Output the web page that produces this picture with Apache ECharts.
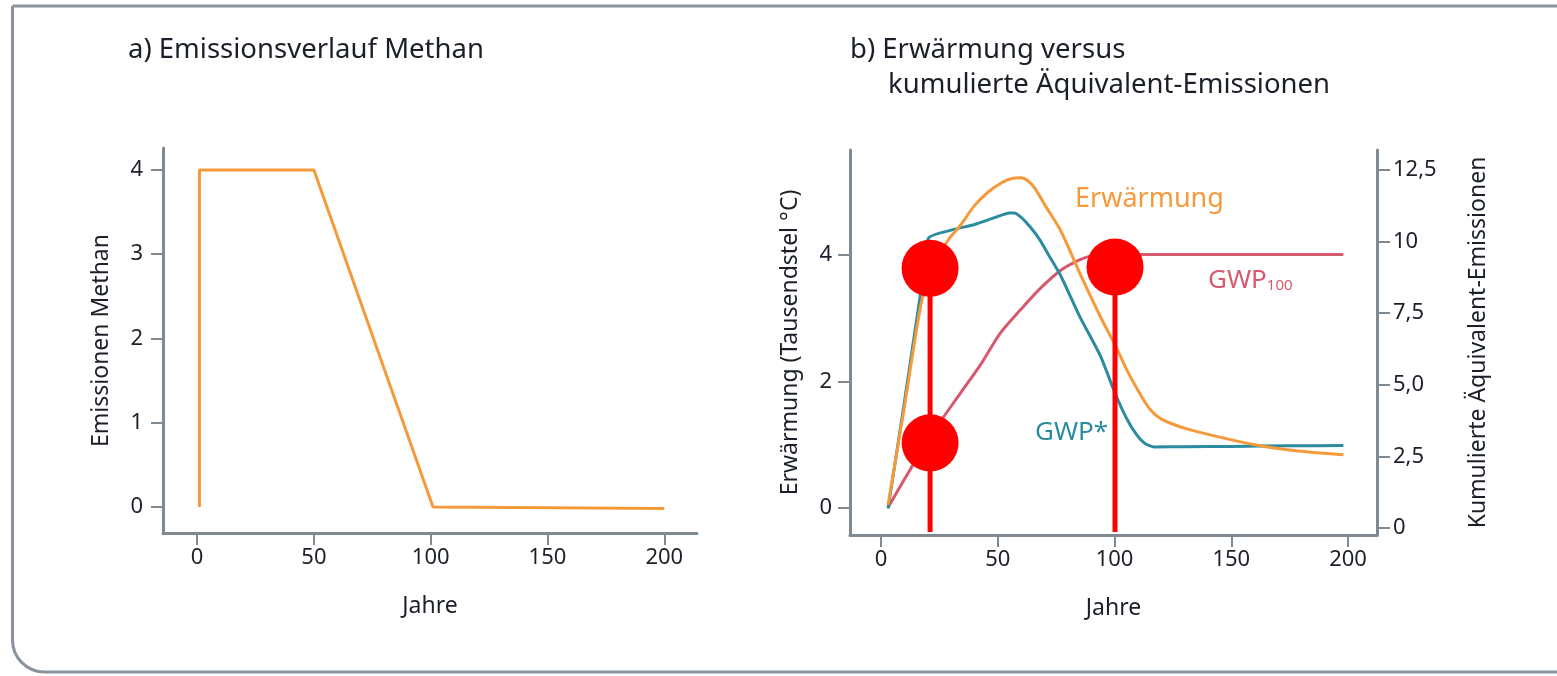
<!DOCTYPE html>
<html>
<head>
<meta charset="utf-8">
<script src="https://cdn.jsdelivr.net/npm/echarts@6/dist/echarts.min.js"></script>
<style>
html,body{margin:0;padding:0;background:#fff;}
#c{width:1557px;height:676px;}
</style>
</head>
<body>
<div id="c"></div>
<script>
// ---- Data ----
const xTicks = [0, 50, 100, 150, 200];
const leftYTicks = [0, 1, 2, 3, 4];
const warmYTicks = [0, 2, 4];
const cumTicks = [0, 2.5, 5, 7.5, 10, 12.5];
const cumTickLabels = ['0', '2,5', '5,0', '7,5', '10', '12,5'];

// a) Emissionsverlauf Methan
const emYears  = [1, 1, 50, 101, 200];
const emValues = [0, 4, 4, 0, -0.02];

// b) Erwärmung (Tausendstel °C), left axis
const warmYears  = [3, 10, 17, 21, 25, 29, 34, 40, 46, 52, 56, 60, 63, 66, 70, 77, 85, 94, 101, 105, 111, 115, 119, 124, 131, 145, 160, 174, 188, 198];
const warmValues = [0.05, 1.6, 3.2, 3.7, 4.0, 4.25, 4.47, 4.78, 5.0, 5.15, 5.21, 5.22, 5.17, 5.05, 4.8, 4.38, 3.72, 3.02, 2.52, 2.2, 1.8, 1.57, 1.43, 1.34, 1.25, 1.12, 1.0, 0.92, 0.87, 0.84];

// GWP* cumulative equivalent emissions, right axis
const gwpStarYears  = [3, 10, 16.7, 20.3, 30, 40, 48, 55, 57, 60, 64, 68, 72, 77, 85, 94, 100, 105, 109.5, 113, 117, 130, 150, 175, 198];
const gwpStarValues = [0.68, 4.4, 8.07, 10.12, 10.4, 10.6, 10.82, 11.0, 11.0, 10.85, 10.5, 10.06, 9.5, 8.8, 7.4, 6.0, 4.75, 3.85, 3.25, 2.95, 2.83, 2.84, 2.85, 2.87, 2.88];

// GWP100 cumulative equivalent emissions, right axis
const gwp100Years  = [3, 10, 21, 34, 43, 51, 59.5, 68, 77, 85, 90, 100, 110, 150, 198];
const gwp100Values = [0.72, 1.7, 3.19, 4.71, 5.75, 6.8, 7.6, 8.35, 9.0, 9.36, 9.5, 9.55, 9.55, 9.55, 9.55];

// red annotation markers (year, warming units)
const markerPoints = [[21, 3.79], [21, 1.03], [100.2, 3.81]];
const markerLines = [[[21, -0.38], [21, 3.79]], [[100.2, -0.38], [100.2, 3.81]]];

// ---- Styles ----
const FONT = 'Noto Sans';
const TXT = '#1b2028';
const AX = '#7f8992';
const ORANGE = '#f59a3a';
const TEAL = '#2a8c9e';
const PINK = '#d65a6d';

const zip = (xs, ys) => xs.map((x, i) => [x, ys[i]]);

function xAxisCfg(gridIndex, min, max) {
  return {
    type: 'value', gridIndex, min, max,
    name: 'Jahre', nameLocation: 'middle', nameGap: 62,
    nameTextStyle: {fontFamily: FONT, fontSize: 23, color: TXT},
    axisLine: {show: true, onZero: false, lineStyle: {color: AX, width: 3}},
    axisTick: {show: true, length: 12, customValues: xTicks, lineStyle: {color: AX, width: 2}},
    axisLabel: {customValues: xTicks, fontFamily: FONT, fontSize: 22, color: TXT, margin: 14},
    splitLine: {show: false}
  };
}

const chart = echarts.init(document.getElementById('c'), null, {renderer: 'canvas'});
chart.setOption({
  animation: false,
  backgroundColor: '#fff',
  grid: [
    {left: 163, top: 148, width: 534, height: 385},
    {left: 850, top: 150, width: 527, height: 385}
  ],
  xAxis: [xAxisCfg(0, -14.6, 214), xAxisCfg(1, -13.3, 212.4)],
  yAxis: [
    {
      type: 'value', gridIndex: 0, min: -0.31, max: 4.26,
      name: 'Emissionen Methan', nameLocation: 'middle', nameGap: 50, nameRotate: 90,
      nameTextStyle: {fontFamily: FONT, fontSize: 23, color: TXT},
      axisLine: {show: true, onZero: false, lineStyle: {color: AX, width: 3}},
      axisTick: {show: true, length: 12, customValues: leftYTicks, lineStyle: {color: AX, width: 2}},
      axisLabel: {customValues: leftYTicks, fontFamily: FONT, fontSize: 22, color: TXT, margin: 20},
      splitLine: {show: false}
    },
    {
      type: 'value', gridIndex: 1, min: -0.427, max: 5.66, position: 'left',
      name: 'Erwärmung (Tausendstel °C)', nameLocation: 'middle', nameGap: 48, nameRotate: 90,
      nameTextStyle: {fontFamily: FONT, fontSize: 23, color: TXT},
      axisLine: {show: true, onZero: false, lineStyle: {color: AX, width: 3}},
      axisTick: {show: true, length: 12, customValues: warmYTicks, lineStyle: {color: AX, width: 2}},
      axisLabel: {customValues: warmYTicks, fontFamily: FONT, fontSize: 22, color: TXT, margin: 18},
      splitLine: {show: false}
    },
    {
      type: 'value', gridIndex: 1, min: -0.244, max: 13.2, position: 'right',
      name: 'Kumulierte Äquivalent-Emissionen', nameLocation: 'middle', nameGap: 90, nameRotate: 90,
      nameTextStyle: {fontFamily: FONT, fontSize: 23, color: TXT},
      axisLine: {show: true, onZero: false, lineStyle: {color: AX, width: 3}},
      axisTick: {show: true, length: 13, customValues: cumTicks, lineStyle: {color: AX, width: 2}},
      axisLabel: {
        customValues: cumTicks, fontFamily: FONT, fontSize: 22, color: TXT, margin: 16,
        formatter: v => { const i = cumTicks.findIndex(t => Math.abs(t - v) < 1e-6); return i >= 0 ? cumTickLabels[i] : ''; }
      },
      splitLine: {show: false}
    }
  ],
  series: [
    {type: 'line', xAxisIndex: 0, yAxisIndex: 0, data: zip(emYears, emValues), symbol: 'none',
     lineStyle: {color: ORANGE, width: 3}},
    {type: 'line', xAxisIndex: 1, yAxisIndex: 2, data: zip(gwp100Years, gwp100Values), symbol: 'none',
     smooth: 0.3, lineStyle: {color: PINK, width: 3}},
    {type: 'line', xAxisIndex: 1, yAxisIndex: 2, data: zip(gwpStarYears, gwpStarValues), symbol: 'none',
     smooth: 0.2, lineStyle: {color: TEAL, width: 3}},
    {type: 'line', xAxisIndex: 1, yAxisIndex: 1, data: zip(warmYears, warmValues), symbol: 'none',
     smooth: 0.3, lineStyle: {color: ORANGE, width: 3}},
    ...markerLines.map(seg => ({
      type: 'line', xAxisIndex: 1, yAxisIndex: 1, data: seg, symbol: 'none', z: 5,
      lineStyle: {color: '#ff0000', width: 5}
    })),
    {type: 'scatter', xAxisIndex: 1, yAxisIndex: 1, data: markerPoints, symbol: 'circle', symbolSize: 57, z: 6,
     itemStyle: {color: '#ff0000', opacity: 1}}
  ],
  graphic: [
    {type: 'rect', silent: true, z: -1,
     shape: {x: 12.5, y: 6, width: 1620, height: 666, r: [0, 0, 0, 32]},
     style: {fill: 'none', stroke: '#8a939b', lineWidth: 3}},
    {type: 'text', left: 128, top: 36, style: {text: 'a) Emissionsverlauf Methan', font: '27.5px "Noto Sans"', fill: TXT}},
    {type: 'text', left: 850, top: 36, style: {text: 'b) Erwärmung versus', font: '27.5px "Noto Sans"', fill: TXT}},
    {type: 'text', left: 888, top: 71, style: {text: 'kumulierte Äquivalent-Emissionen', font: '27.5px "Noto Sans"', fill: TXT}},
    {type: 'text', left: 1075, top: 186, style: {text: 'Erwärmung', font: '27px "Noto Sans"', fill: ORANGE}},
    {type: 'text', left: 1035, top: 420, style: {text: 'GWP*', font: '26px "Noto Sans"', fill: TEAL}},
    {type: 'text', left: 1208, top: 268, style: {
      text: '{a|GWP}{b|100}', fill: PINK,
      rich: {a: {fontFamily: FONT, fontSize: 26, fill: PINK}, b: {fontFamily: FONT, fontSize: 15, fill: PINK, padding: [10, 0, 0, 0]}}
    }}
  ]
});
</script>
</body>
</html>
